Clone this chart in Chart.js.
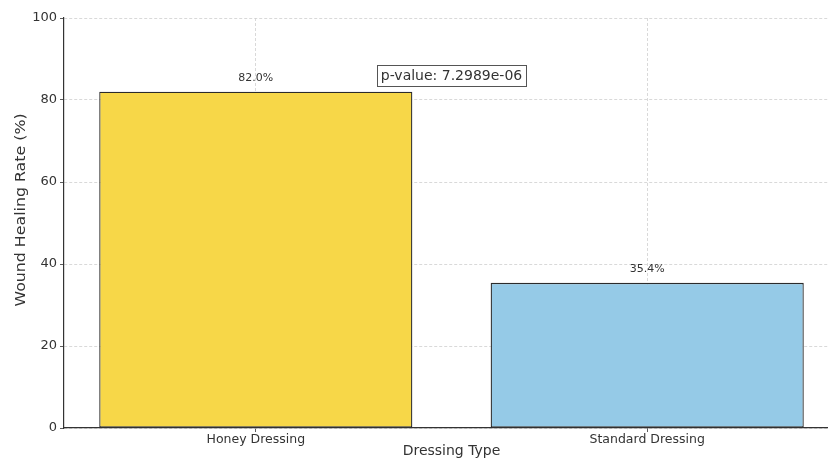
<!DOCTYPE html>
<html>
<head>
<meta charset="utf-8">
<script src="https://cdn.jsdelivr.net/npm/chart.js@4.4.1/dist/chart.umd.min.js"></script>
<style>
  html, body { margin: 0; padding: 0; background: #fff; overflow: hidden; width: 828px; height: 460px; }
  #wrap { position: absolute; left: 0; top: 0; width: 850px; height: 460px; }
</style>
</head>
<body>
<div id="wrap"><canvas id="chart" width="850" height="460"></canvas></div>
<script>
// Wound healing rate per dressing type
const dressingTypes = ['Honey Dressing', 'Standard Dressing'];
const healingRates = [82.0, 35.4];
const barColors = ['#F7D748', '#95CAE7'];
const yTicks = [0, 20, 40, 60, 80, 100];
const yTitle = 'Wound Healing Rate (%)';
const xTitle = 'Dressing Type';
const pValueText = 'p-value: 7.2989e-06';
const pValueLevel = 86;

const FONT = "'DejaVu Sans', sans-serif";

// Percentage labels above each bar
const barLabels = {
  id: 'barLabels',
  afterDatasetsDraw(chart) {
    const ctx = chart.ctx;
    const meta = chart.getDatasetMeta(0);
    ctx.save();
    ctx.font = '11px ' + FONT;
    ctx.fillStyle = '#333';
    ctx.textAlign = 'center';
    ctx.textBaseline = 'bottom';
    meta.data.forEach((bar, i) => {
      ctx.fillText(healingRates[i].toFixed(1) + '%', bar.x, bar.y - 8);
    });
    ctx.restore();
  }
};

// Boxed p-value note between the two bars
const pValueBox = {
  id: 'pValueBox',
  afterDraw(chart) {
    const ctx = chart.ctx;
    const xs = chart.scales.x, ys = chart.scales.y;
    const cx = (xs.getPixelForValue(0) + xs.getPixelForValue(1)) / 2;
    const cy = ys.getPixelForValue(pValueLevel);
    ctx.save();
    ctx.font = '14px ' + FONT;
    const w = ctx.measureText(pValueText).width;
    const padX = 4, h = 21;
    const bx = Math.round(cx - w / 2 - padX), by = Math.round(cy - h / 2);
    ctx.fillStyle = '#fff';
    ctx.fillRect(bx, by, Math.round(w + 2 * padX), h);
    ctx.strokeStyle = '#555';
    ctx.lineWidth = 1;
    ctx.strokeRect(bx + 0.5, by + 0.5, Math.round(w + 2 * padX), h);
    ctx.fillStyle = '#333';
    ctx.textAlign = 'center';
    ctx.textBaseline = 'middle';
    ctx.fillText(pValueText, cx, cy + 1);
    ctx.restore();
  }
};

// Rotated y-axis title, drawn slightly stretched along its length
const yAxisTitle = {
  id: 'yAxisTitle',
  afterDraw(chart) {
    const ctx = chart.ctx;
    const area = chart.chartArea;
    ctx.save();
    ctx.translate(21, (area.top + area.bottom) / 2 - 13);
    ctx.rotate(-Math.PI / 2);
    ctx.scale(1.17, 1);
    ctx.font = '13.5px ' + FONT;
    ctx.fillStyle = '#333';
    ctx.textAlign = 'center';
    ctx.textBaseline = 'middle';
    ctx.fillText(yTitle, 0, 0);
    ctx.restore();
  }
};

const gridStyle = {
  offset: false,
  color: '#cfcfcf',
  lineWidth: 0.8,
  tickColor: '#333',
  tickLength: 4,
  tickBorderDash: []
};

new Chart(document.getElementById('chart'), {
  type: 'bar',
  data: {
    datasets: [{
      data: dressingTypes.map((name, i) => ({ x: i, y: healingRates[i] })),
      backgroundColor: barColors,
      borderColor: '#2b2b2b',
      borderWidth: 1.3,
      borderSkipped: false,
      barPercentage: 0.8,
      categoryPercentage: 1
    }]
  },
  options: {
    responsive: false,
    animation: false,
    devicePixelRatio: 1,
    layout: { padding: { top: 18, right: 11, left: 0, bottom: 0 } },
    plugins: { legend: { display: false }, tooltip: { enabled: false } },
    scales: {
      x: {
        type: 'linear',
        z: 1,
        min: -0.49,
        max: 1.49,
        offset: false,
        afterFit(scale) { scale.height = 32; },
        afterBuildTicks(scale) { scale.ticks = dressingTypes.map((name, i) => ({ value: i })); },
        grid: Object.assign({}, gridStyle),
        border: { display: true, color: '#333', width: 1.2, dash: [3, 2] },
        ticks: {
          color: '#333',
          font: { family: FONT, size: 12.5 },
          padding: 0,
          callback: (v) => dressingTypes[v]
        },
        title: { display: true, text: xTitle, color: '#333', font: { family: FONT, size: 14 }, padding: { top: 2, bottom: 0 } }
      },
      y: {
        z: 1,
        min: 0,
        max: 100,
        afterFit(scale) { scale.width = 64; },
        afterBuildTicks(scale) { scale.ticks = yTicks.map(v => ({ value: v })); },
        grid: Object.assign({}, gridStyle),
        border: { display: true, color: '#333', width: 1.2, dash: [3, 2] },
        ticks: { color: '#333', font: { family: FONT, size: 13 }, padding: 3 },
        title: { display: false }
      }
    }
  },
  plugins: [barLabels, pValueBox, yAxisTitle]
});
</script>
</body>
</html>
